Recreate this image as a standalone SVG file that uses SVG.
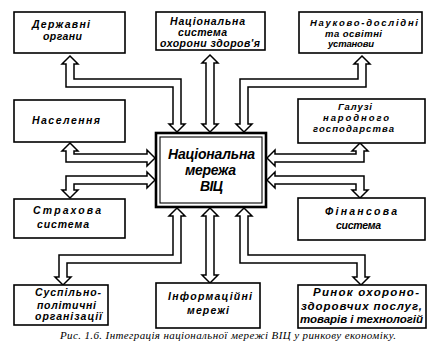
<svg xmlns="http://www.w3.org/2000/svg" width="433" height="355" viewBox="0 0 433 355">
<style>
.box{fill:#fff;stroke:#000;stroke-width:1.6}
.arr{fill:#fff;stroke:#000;stroke-width:1.5;stroke-linejoin:miter}
.t{font-family:"Liberation Sans",Arial,sans-serif;font-weight:bold;font-style:italic;font-size:10.5px;fill:#000}
.s{font-size:9.5px}
.tc{font-family:"Liberation Sans",Arial,sans-serif;font-weight:bold;font-style:italic;font-size:14px;fill:#000}
.cap{font-family:"Liberation Serif","Times New Roman",serif;font-style:italic;font-size:11px;fill:#000}
</style>
<rect width="433" height="355" fill="#fff"/>
<g id="connectors">
<polygon class="arr" points="70,56 78,64 74,64 74,79 181,79 181,124 185,124 177,132 169,124 173,124 173,87 66,87 66,64 62,64"/>
<polygon class="arr" points="210,55 218,63 214,63 214,124 218,124 210,132 202,124 206,124 206,63 202,63"/>
<polygon class="arr" points="362,56 370,64 366,64 366,87 248,87 248,124 252,124 244,132 236,124 240,124 240,79 358,79 358,64 354,64"/>
<polygon class="arr" points="70,143 78,151 74,151 74,154 147,154 147,150 155,158 147,166 147,162 66,162 66,151 62,151"/>
<polygon class="arr" points="155,180 147,188 147,184 74,184 74,190 78,190 70,198 62,190 66,190 66,176 147,176 147,172"/>
<polygon class="arr" points="267,158 275,150 275,154 356,154 356,151 352,151 360,143 368,151 364,151 364,162 275,162 275,166"/>
<polygon class="arr" points="267,180 275,172 275,176 364,176 364,190 368,190 360,198 352,190 356,190 356,184 275,184 275,188"/>
<polygon class="arr" points="177,208 185,216 181,216 181,263 67,263 67,277 71,277 63,285 55,277 59,277 59,255 173,255 173,216 169,216"/>
<polygon class="arr" points="210,208 218,216 214,216 214,275 218,275 210,283 202,275 206,275 206,216 202,216"/>
<polygon class="arr" points="244,208 252,216 248,216 248,255 365,255 365,277 369,277 361,285 353,277 357,277 357,263 240,263 240,216 236,216"/>
</g>
<g id="n-derzhavni">
<rect class="box" x="14" y="12" width="111" height="41"/>
<text class="t" x="32" y="28" textLength="58">Державні</text>
<text class="t" x="43" y="40" textLength="39">органи</text>
</g>
<g id="n-ozdorov">
<rect class="box" x="156" y="12" width="109" height="38"/>
<text class="t" x="170" y="25" textLength="75">Національна</text>
<text class="t" x="178" y="36" textLength="49">система</text>
<text class="t" x="160" y="47" textLength="100">охорони здоров'я</text>
</g>
<g id="n-nauka">
<rect class="box" x="299" y="12" width="123" height="41"/>
<text class="t s" x="310" y="26" textLength="108">Науково-дослідні</text>
<text class="t s" x="325" y="36.5" textLength="57">та освітні</text>
<text class="t s" x="328" y="47" textLength="46">установи</text>
</g>
<g id="n-naselennia">
<rect class="box" x="14" y="100" width="111" height="42"/>
<text class="t" x="32" y="124" textLength="68">Населення</text>
</g>
<g id="n-haluzi">
<rect class="box" x="298" y="99" width="127" height="44"/>
<text class="t s" x="338" y="110" textLength="34">Галузі</text>
<text class="t s" x="323" y="120.5" textLength="66">народного</text>
<text class="t s" x="313" y="131.5" textLength="81">господарства</text>
</g>
<g id="n-center">
<rect x="156" y="133" width="110" height="74" fill="#fff" stroke="#000" stroke-width="2.6"/>
<rect x="160" y="137" width="102" height="66" fill="none" stroke="#000" stroke-width="1.1"/>
<text class="tc" x="168" y="159" textLength="87">Національна</text>
<text class="tc" x="185" y="175" textLength="51">мережа</text>
<text class="tc" x="200" y="191" textLength="23">ВІЦ</text>
</g>
<g id="n-strakhova">
<rect class="box" x="14" y="199" width="111" height="39"/>
<text class="t" x="33" y="214" textLength="68">Страхова</text>
<text class="t" x="37" y="228" textLength="52">система</text>
</g>
<g id="n-finansova">
<rect class="box" x="298" y="198" width="127" height="42"/>
<text class="t" x="325" y="215" textLength="72">Фінансова</text>
<text class="t" x="336" y="229" textLength="45">система</text>
</g>
<g id="n-suspilno">
<rect class="box" x="14" y="285" width="94" height="40"/>
<text class="t" x="35" y="296" textLength="66">Суспільно-</text>
<text class="t" x="37" y="309" textLength="59">політичні</text>
<text class="t" x="35" y="320" textLength="67">організації</text>
</g>
<g id="n-inform">
<rect class="box" x="156" y="283" width="104" height="45"/>
<text class="t" x="168" y="300" textLength="84">Інформаційні</text>
<text class="t" x="187" y="314" textLength="42">мережі</text>
</g>
<g id="n-rynok">
<rect class="box" x="298" y="285" width="128" height="43"/>
<text class="t" x="313" y="296" textLength="106" style="font-size:11.5px">Ринок охороно-</text>
<text class="t" x="301" y="310" textLength="121" style="font-size:11.5px">здоровчих послуг,</text>
<text class="t" x="300" y="323" textLength="123" style="font-size:11.5px">товарів і технологій</text>
</g>
<text class="cap" x="60" y="339" textLength="336">Рис. 1.6. Інтеграція національної мережі ВІЦ у ринкову економіку.</text>
</svg>
